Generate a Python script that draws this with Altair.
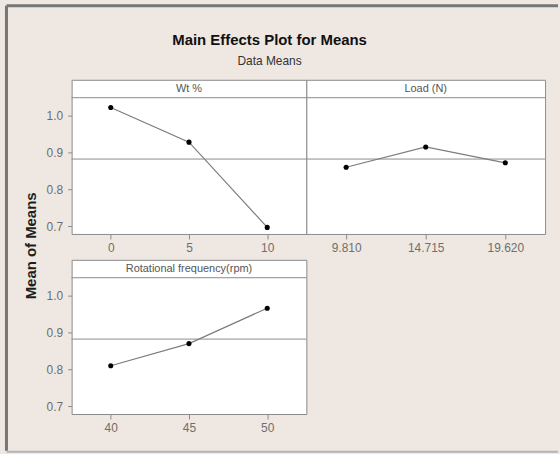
import altair as alt
import pandas as pd

# Level means of the response for each factor
wt_levels = ["0", "5", "10"]
wt_means = [1.022, 0.928, 0.697]

load_levels = ["9.810", "14.715", "19.620"]
load_means = [0.860, 0.915, 0.872]

rpm_levels = ["40", "45", "50"]
rpm_means = [0.810, 0.870, 0.966]

y_ticks = [0.7, 0.8, 0.9, 1.0]

# Overall mean (balanced design: mean of the level means)
grand_mean = sum(wt_means + load_means + rpm_means) / 9

FONT = "Liberation Sans"
FRAME = "#8a8a8a"
LABEL = "#6e6e6e"

PANEL_H = 155          # strip + plotting region, px
STRIP_H = 18           # header strip height, px
PX_PER_UNIT = 371.0
Y_TOP = 1.097
Y_BOTTOM = Y_TOP - PANEL_H / PX_PER_UNIT


def panel(levels, means, header, width, show_y_axis, extra_layers=()):
    df = pd.DataFrame({"level": levels, "mean": means})

    x_enc = alt.X(
        "level:N", sort=levels, title=None,
        scale=alt.Scale(type="point", padding=0.5),
        axis=alt.Axis(labelAngle=0, tickSize=5, tickColor=FRAME, domain=False,
                      grid=False, labelColor=LABEL, labelFontSize=12,
                      labelPadding=4, labelFont=FONT),
    )
    if show_y_axis:
        y_axis = alt.Axis(values=y_ticks, format=".1f", grid=False, domain=False,
                          tickSize=4, tickColor=FRAME, labelColor=LABEL,
                          labelFontSize=12, labelPadding=5, labelFont=FONT,
                          title=None)
    else:
        y_axis = None
    y_scale = alt.Scale(domain=[Y_BOTTOM, Y_TOP], nice=False, zero=False)
    y_enc = alt.Y("mean:Q", scale=y_scale, axis=y_axis)

    ref = alt.Chart(pd.DataFrame({"mean": [grand_mean]})).mark_rule(
        color="#8c8c8c", strokeWidth=1
    ).encode(y=y_enc)

    base = alt.Chart(df).encode(x=x_enc, y=y_enc)
    line = base.mark_line(color="#7c7c7c", strokeWidth=1.2)
    pts = base.mark_circle(color="black", size=26, opacity=1)

    head = pd.DataFrame({"header": [header]})
    strip_line = alt.Chart(head).mark_rule(color=FRAME, strokeWidth=1).encode(
        x=alt.value(0), x2=alt.value(width), y=alt.value(STRIP_H)
    )
    strip_text = alt.Chart(head).mark_text(
        font=FONT, fontSize=11, color="#555555", baseline="middle"
    ).encode(text="header:N", x=alt.value(width / 2), y=alt.value(STRIP_H / 2 + 0.5))

    return alt.layer(ref, line, pts, strip_line, strip_text, *extra_layers).properties(
        width=width, height=PANEL_H
    )


# Page decorations anchored to the first panel (origin at its top-left corner)
OX, OY = 71, 78
one = pd.DataFrame({"t": ["Main Effects Plot for Means"], "s": ["Data Means"],
                    "y": ["Mean of Means"]})
title = alt.Chart(one).mark_text(
    font=FONT, fontSize=15, fontWeight="bold", color="#111111", baseline="middle"
).encode(text="t:N", x=alt.value(270 - OX), y=alt.value(38 - OY))
subtitle = alt.Chart(one).mark_text(
    font=FONT, fontSize=12, color="#333333", baseline="middle"
).encode(text="s:N", x=alt.value(270 - OX), y=alt.value(59 - OY))
y_title = alt.Chart(one).mark_text(
    font=FONT, fontSize=15, fontWeight="bold", color="#1e1e1e",
    baseline="middle", angle=270
).encode(text="y:N", x=alt.value(30 - OX), y=alt.value(245 - OY))
border_top = alt.Chart(one).mark_rule(color="#767676", strokeWidth=3).encode(
    x=alt.value(5.5 - OX), x2=alt.value(560 - OX), y=alt.value(3.5 - OY)
)
border_left = alt.Chart(one).mark_rule(color="#767676", strokeWidth=3).encode(
    x=alt.value(5.5 - OX), y=alt.value(3.5 - OY), y2=alt.value(451 - OY)
)
border_bottom = alt.Chart(one).mark_rule(color="#b4b4b4", strokeWidth=2).encode(
    x=alt.value(5.5 - OX), x2=alt.value(560 - OX), y=alt.value(452 - OY)
)

p1 = panel(wt_levels, wt_means, "Wt %", 236, True,
           (title, subtitle, y_title, border_top, border_left, border_bottom))
p2 = panel(load_levels, load_means, "Load (N)", 240, False)
p3 = panel(rpm_levels, rpm_means, "Rotational frequency(rpm)", 236, True)

chart = alt.concat(
    p1, p2, p3, columns=2, spacing={"row": 26, "column": 0}, bounds="flush"
).configure(
    background="#efe8e2",
    padding={"left": 4, "top": 2, "right": 0, "bottom": 1},
).configure_view(
    fill="white", stroke=FRAME, strokeWidth=1
)

chart.save("out.html", embed_options={"renderer": "svg", "actions": False})
